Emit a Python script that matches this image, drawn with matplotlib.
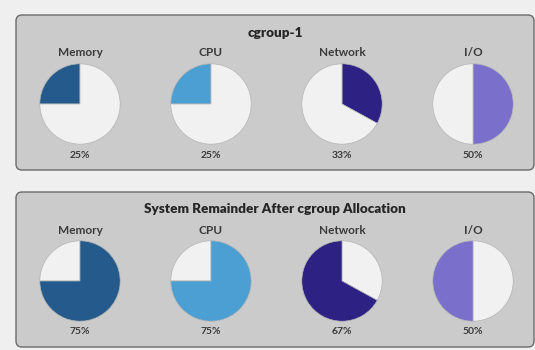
import matplotlib
matplotlib.use("Agg")
import matplotlib.pyplot as plt
from matplotlib.patches import FancyBboxPatch

plt.rcParams['font.family'] = ['Lato', 'DejaVu Sans']

resources = ["Memory", "CPU", "Network", "I/O"]
cgroup_share = [25, 25, 33, 50]
remainder_share = [75, 75, 67, 50]
panel_titles = ["cgroup-1", "System Remainder After cgroup Allocation"]

colors = ["#245b8c", "#4b9fd3", "#2e2184", "#7a70cc"]
free_color = "#f1f1f1"
# direction in which the cgroup wedge is swept from 12 o'clock
counterclock = [True, True, False, False]

W, H = 535, 350
fig = plt.figure(figsize=(W / 100, H / 100), dpi=100, facecolor="#efefef")
bg = fig.add_axes([0, 0, 1, 1])
bg.set_xlim(0, W)
bg.set_ylim(H, 0)
bg.axis("off")

panels = [(16, 15, 518, 155), (16, 192, 518, 155)]
title_y = [33, 209]
label_y = [53, 230]
pie_y = [104, 281]
pct_y = [155, 331]
pie_x = [80, 211, 342, 473]
r = 41

for p, (x0, y0, w, h) in enumerate(panels):
    bg.add_patch(FancyBboxPatch((x0, y0), w, h,
                                boxstyle="round,pad=0,rounding_size=6",
                                facecolor="#cbcbcb", edgecolor="#6b6b6b",
                                linewidth=1.0))
    bg.text(x0 + w / 2, title_y[p], panel_titles[p], ha="center", va="center",
            fontsize=9.7, fontweight="heavy", color="#262626")

for p in range(2):
    for i, name in enumerate(resources):
        cx, cy = pie_x[i], pie_y[p]
        ax = fig.add_axes([(cx - r) / W, 1 - (cy + r) / H, 2 * r / W, 2 * r / H])
        if p == 0:
            vals = [cgroup_share[i], 100 - cgroup_share[i]]
            cols = [colors[i], free_color]
            shown = cgroup_share[i]
        else:
            vals = [100 - remainder_share[i], remainder_share[i]]
            cols = [free_color, colors[i]]
            shown = remainder_share[i]
        ax.pie(vals, colors=cols, startangle=90, counterclock=counterclock[i],
               radius=1.0, wedgeprops=dict(edgecolor="#b4b4b4", linewidth=0.5))
        ax.set_xlim(-1.02, 1.02)
        ax.set_ylim(-1.02, 1.02)
        ax.axis("off")
        bg.text(cx, label_y[p], name, ha="center", va="center",
                fontsize=8.5, fontweight="bold", color="#3a3a3a")
        bg.text(cx, pct_y[p], f"{shown}%", ha="center", va="center",
                fontsize=7.5, fontweight="bold", color="#3a3a3a")

fig.savefig("out.png", dpi=100, facecolor=fig.get_facecolor())
